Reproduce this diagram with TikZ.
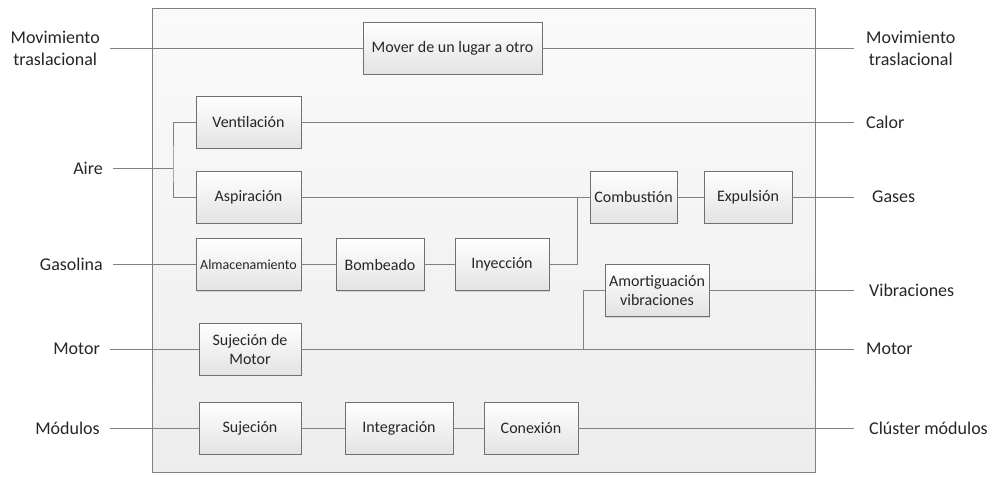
\documentclass[tikz,border=0pt]{standalone}
\usepackage{fontspec}
\setmainfont{Carlito}
\usetikzlibrary{positioning,shadows}
\definecolor{linegray}{HTML}{808080}
\definecolor{boxgray}{HTML}{707070}
\tikzset{
block/.style = {draw=boxgray, line width=0.8pt, rectangle, top color=white, bottom color=black!11, minimum height=52pt, inner sep=2pt, align=center, text=black!85, font=\fontsize{16}{19}\selectfont, drop shadow={shadow xshift=1.2pt, shadow yshift=-1.2pt, opacity=0.25}},
frame/.style = {draw=linegray, line width=0.8pt, rectangle, top color=black!2, bottom color=black!7},
ext/.style = {align=center, text=black!85, font=\fontsize{18}{22}\selectfont, inner xsep=10pt, inner ysep=2pt},
tmp/.style = {coordinate},
wire/.style = {draw=linegray, line width=0.8pt}
}

\begin{document}
\begin{tikzpicture}[x=1pt, y=-1pt, node distance=2cm]
  \useasboundingbox (0,0) rectangle (994,477);
  \node [frame, minimum width=663pt, minimum height=464pt] (sistema) at (483.5,240) {};

  \node [block, minimum width=179pt]                                  (mover)  at (452.5,48) {Mover de un lugar a otro};
  \node [block, minimum width=105pt]                                  (vent)   at (248.5,122) {Ventilación};
  \node [block, minimum width=105pt, below of=vent, node distance=75pt]   (asp)    {Aspiración};
  \node [block, minimum width=105pt, below of=asp, node distance=67.5pt, font=\fontsize{14}{17}\selectfont] (alm) {Almacenamiento};
  \node [block, minimum width=88pt, right of=alm, node distance=131.5pt]  (bomb)   {Bombeado};
  \node [block, minimum width=94pt, right of=bomb, node distance=122pt]   (iny)    {Inyección};
  \node [block, minimum width=87pt]                                   (comb)   at (633.5,197) {Combustión};
  \node [block, minimum width=88pt, right of=comb, node distance=114.5pt] (expul)  {Expulsión};
  \node [block, minimum width=104pt]                                  (amort)  at (657,290.5) {Amortiguación\\vibraciones};
  \node [block, minimum width=102pt]                                  (sujmot) at (250,349) {Sujeción de\\Motor};
  \node [block, minimum width=102pt, below of=sujmot, node distance=79pt] (suj)    {Sujeción};
  \node [block, minimum width=108pt, right of=suj, node distance=149pt]   (integ)  {Integración};
  \node [block, minimum width=94pt, right of=integ, node distance=132pt]  (conex)  {Conexión};

  \node [tmp] (airej) at (173,168) {};
  \node [tmp] (combj) at (577,197) {};
  \node [tmp] (vibj)  at (583,349) {};

  \node [ext, anchor=east] (inmov)   at (110,48)  {Movimiento\\traslacional};
  \node [ext, anchor=east] (inaire)  at (113,168) {Aire};
  \node [ext, anchor=east] (ingas)   at (113,264.5) {Gasolina};
  \node [ext, anchor=east] (inmotor) at (110,349) {Motor};
  \node [ext, anchor=east] (inmod)   at (110,428) {Módulos};

  \node [ext, anchor=west, inner xsep=12pt] (outmov)   at (854,48)  {Movimiento\\traslacional};
  \node [ext, anchor=west, inner xsep=12pt] (outcalor) at (854,122) {Calor};
  \node [ext, anchor=west, inner xsep=18pt] (outgases) at (854,197) {Gases};
  \node [ext, anchor=west, inner xsep=15pt] (outvib)   at (854,290.5) {Vibraciones};
  \node [ext, anchor=west, inner xsep=12pt] (outmotor) at (854,349) {Motor};
  \node [ext, anchor=west, inner xsep=15pt] (outclus)  at (854,428) {Clúster módulos};

  \draw [wire] (inmov) -- (mover) -- (outmov);
  \draw [wire] (inaire) -- (airej);
  \draw [wire] (vent.west) -| (airej) |- (asp.west);
  \draw [wire] (vent) -- (outcalor);
  \draw [wire] (asp) -- (comb);
  \draw [wire] (iny.east) -| (combj);
  \draw [wire] (comb) -- (expul) -- (outgases);
  \draw [wire] (ingas) -- (alm) -- (bomb) -- (iny);
  \draw [wire] (inmotor) -- (sujmot) -- (outmotor);
  \draw [wire] (vibj) |- (amort.west);
  \draw [wire] (amort) -- (outvib);
  \draw [wire] (inmod) -- (suj) -- (integ) -- (conex) -- (outclus);
\end{tikzpicture}
\end{document}
